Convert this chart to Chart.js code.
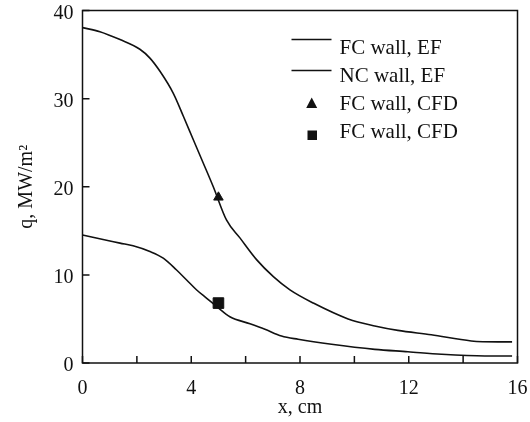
<!DOCTYPE html>
<html>
<head>
<meta charset="utf-8">
<script src="https://cdn.jsdelivr.net/npm/chart.js@4.4.0/dist/chart.umd.min.js"></script>
<style>
    html, body { margin: 0; padding: 0; background: #fff; }
    #wrap { width: 530px; height: 422px; }
</style>
</head>
<body>
<div id="wrap"><canvas id="chart" width="530" height="422"></canvas></div>
<script>
// FC wall, EF (upper curve)
var fcWallX = [0, 0.64, 1.38, 2.11, 2.48, 2.85, 3.34, 3.71, 4.08, 4.44, 4.81, 5.3, 5.79, 6.41, 7.02, 7.63, 8.49, 9.77, 10.75, 11.6, 12.83, 14.3, 15.28, 15.8];
var fcWallQ = [38.06, 37.6, 36.7, 35.6, 34.6, 33.1, 30.6, 28.0, 25.3, 22.7, 20.0, 16.2, 14.2, 11.7, 9.8, 8.3, 6.8, 5.0, 4.2, 3.7, 3.2, 2.5, 2.4, 2.4];

// NC wall, EF (lower curve)
var ncWallX = [0, 1.01, 1.38, 1.86, 2.48, 2.97, 3.46, 3.83, 4.2, 4.57, 4.94, 5.42, 6.16, 6.71, 7.32, 7.93, 9.16, 10.75, 11.97, 13.2, 14.8, 15.8];
var ncWallQ = [14.53, 13.85, 13.6, 13.3, 12.65, 11.9, 10.55, 9.42, 8.28, 7.34, 6.39, 5.25, 4.45, 3.82, 3.06, 2.69, 2.12, 1.55, 1.28, 0.99, 0.8, 0.8];

// CFD points
var cfdTriangleX = [5.0];
var cfdTriangleQ = [18.8];
var cfdSquareX = [5.0];
var cfdSquareQ = [6.8];

var seriesLabels = ["FC wall, EF", "NC wall, EF", "FC wall, CFD", "FC wall, CFD"];
var xLabelTicks = [0, 4, 8, 12, 16];

var plotFont = '"Liberation Serif", "Times New Roman", Times, serif';
var ink = '#111';

function toPoints(xs, ys) {
    var pts = [];
    for (var i = 0; i < xs.length; i++) {
        pts.push({ x: xs[i], y: ys[i] });
    }
    return pts;
}

function noScalePadding(s) {
    s.paddingLeft = 0;
    s.paddingRight = 0;
    s.paddingTop = 0;
    s.paddingBottom = 0;
}

Chart.defaults.font.family = plotFont;
Chart.defaults.color = ink;

// box round the plot and inward tick marks
var framePlugin = {
    id: 'frame',
    afterDatasetsDraw: function (chart) {
        var ctx = chart.ctx;
        var a = chart.chartArea;
        var xs = chart.scales.x, ys = chart.scales.y;
        ctx.save();
        ctx.strokeStyle = ink;
        ctx.lineWidth = 1.5;
        ctx.strokeRect(a.left, a.top, a.right - a.left, a.bottom - a.top);
        ctx.beginPath();
        xs.ticks.forEach(function (t) {
            var px = xs.getPixelForValue(t.value);
            ctx.moveTo(px, a.bottom);
            ctx.lineTo(px, a.bottom - 7);
        });
        ys.ticks.forEach(function (t) {
            var py = ys.getPixelForValue(t.value);
            ctx.moveTo(a.left, py);
            ctx.lineTo(a.left + 7, py);
        });
        ctx.stroke();
        ctx.restore();
    }
};

// legend drawn inside the plot, top right
var legendPlugin = {
    id: 'insideLegend',
    afterDraw: function (chart) {
        var ctx = chart.ctx;
        var ds = chart.data.datasets;
        var textX = 339.5;
        var baselines = [53.5, 81.5, 109.5, 137.5];
        ctx.save();
        ctx.fillStyle = ink;
        ctx.strokeStyle = ink;
        ctx.font = '21px ' + plotFont;
        ctx.textAlign = 'left';
        ctx.textBaseline = 'alphabetic';
        for (var i = 0; i < ds.length; i++) {
            ctx.fillText(ds[i].label, textX, baselines[i]);
        }
        ctx.lineWidth = 1.5;
        ctx.beginPath();
        ctx.moveTo(291.5, 39.5); ctx.lineTo(331.5, 39.5);
        ctx.moveTo(291.5, 70.5); ctx.lineTo(331.5, 70.5);
        ctx.stroke();
        // triangle
        ctx.beginPath();
        ctx.moveTo(311.7, 97.5);
        ctx.lineTo(317.2, 108);
        ctx.lineTo(306.2, 108);
        ctx.closePath();
        ctx.fill();
        // square
        ctx.fillRect(307.5, 130.5, 9.5, 9.5);
        ctx.restore();
    }
};

new Chart(document.getElementById('chart'), {
    type: 'line',
    data: {
        datasets: [
            {
                label: seriesLabels[0],
                data: toPoints(fcWallX, fcWallQ),
                borderColor: ink,
                borderWidth: 1.6,
                pointRadius: 0,
                cubicInterpolationMode: 'monotone',
                fill: false
            },
            {
                label: seriesLabels[1],
                data: toPoints(ncWallX, ncWallQ),
                borderColor: ink,
                borderWidth: 1.6,
                pointRadius: 0,
                cubicInterpolationMode: 'monotone',
                fill: false
            },
            {
                label: seriesLabels[2],
                data: toPoints(cfdTriangleX, cfdTriangleQ),
                showLine: false,
                pointStyle: 'triangle',
                pointRadius: 5.5,
                pointBorderWidth: 1,
                pointBackgroundColor: ink,
                pointBorderColor: ink
            },
            {
                label: seriesLabels[3],
                data: toPoints(cfdSquareX, cfdSquareQ),
                showLine: false,
                pointStyle: 'rect',
                pointRadius: 7.5,
                pointBorderWidth: 1,
                pointBackgroundColor: ink,
                pointBorderColor: ink
            }
        ]
    },
    options: {
        responsive: false,
        animation: false,
        layout: { padding: { top: 10.5, right: 12.5, left: 0, bottom: 0 } },
        plugins: {
            legend: { display: false },
            tooltip: { enabled: false }
        },
        scales: {
            x: {
                type: 'linear',
                min: 0,
                max: 16,
                grid: { display: false, drawTicks: false },
                border: { display: false },
                ticks: {
                    stepSize: 2,
                    autoSkip: false,
                    maxRotation: 0,
                    padding: 14,
                    font: { size: 20 },
                    callback: function (v) {
                        return xLabelTicks.indexOf(v) >= 0 ? String(v) : '';
                    }
                },
                title: {
                    display: true,
                    text: 'x, cm',
                    font: { size: 20 },
                    padding: { top: 0, bottom: 2 }
                },
                afterFit: function (s) { s.height = 59; noScalePadding(s); }
            },
            y: {
                min: 0,
                max: 40,
                grid: { display: false, drawTicks: false },
                border: { display: false },
                ticks: {
                    stepSize: 10,
                    padding: 9,
                    labelOffset: 3,
                    font: { size: 20 }
                },
                title: {
                    display: true,
                    text: 'q, MW/m\u00B2',
                    font: { size: 20 },
                    padding: { top: 15, bottom: 0 }
                },
                afterFit: function (s) { s.width = 82.5; noScalePadding(s); }
            }
        }
    },
    plugins: [framePlugin, legendPlugin]
});
</script>
</body>
</html>
